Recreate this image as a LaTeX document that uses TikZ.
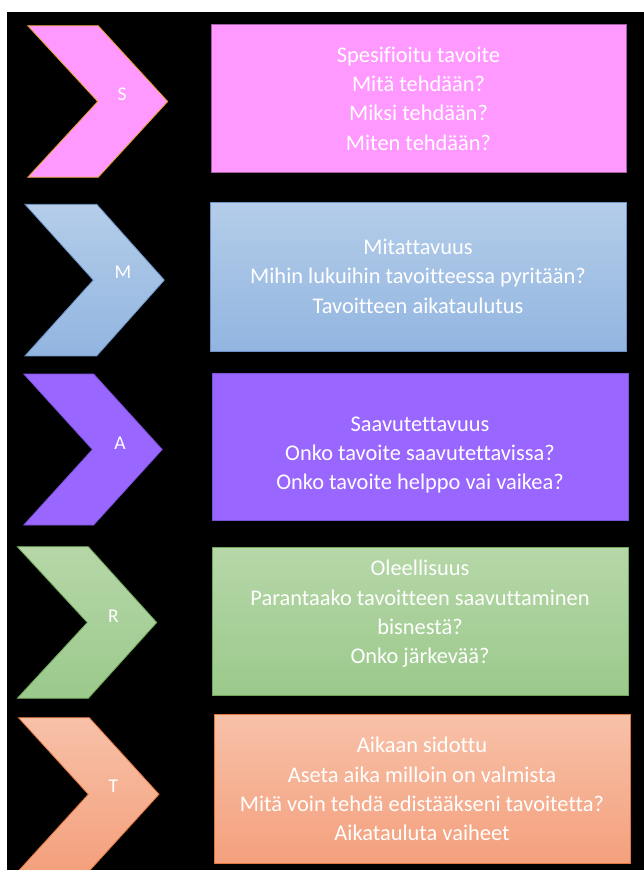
\documentclass[tikz,border=0pt]{standalone}
\usepackage{fontspec}
\setmainfont{Carlito}[RawFeature={-liga;-clig;-calt;-dlig}]

\definecolor{sfill}{HTML}{FF99FF}
\definecolor{sline}{HTML}{E0A020}
\definecolor{sbox}{HTML}{A060A0}
\definecolor{mtop}{HTML}{B4CDE9}
\definecolor{mbot}{HTML}{92B5E0}
\definecolor{mline}{HTML}{6D93C6}
\definecolor{afill}{HTML}{9966FF}
\definecolor{aline}{HTML}{7B52D6}
\definecolor{rtop}{HTML}{B6D7A8}
\definecolor{rbot}{HTML}{9BC98B}
\definecolor{rline}{HTML}{6FA657}
\definecolor{ttop}{HTML}{F7C1A8}
\definecolor{tbot}{HTML}{F4A07D}
\definecolor{tline}{HTML}{E0753E}

\begin{document}
\begin{tikzpicture}[x=1pt,y=-1pt,
  chev/.style={line width=0.8pt, line join=miter},
  goalbox/.style={rectangle, line width=0.8pt, anchor=north west, inner sep=0pt},
  goaltext/.style={text=white, align=center, font=\fontsize{22.4}{29.4}\selectfont},
  letter/.style={text=white, font=\fontsize{19.5}{21}\selectfont}]

  \useasboundingbox (0,0) rectangle (644,870);
  \clip (0,0) rectangle (644,870);
  \fill[white] (0,0) rectangle (644,870);
  \fill[black] (7,12) rectangle (644,870);

  % S
  \path[chev, fill=sfill, draw=sline] (27.7,25.7) -- ++(70.5,0) -- ++(69.5,75.8)
    -- ++(-69.5,75.8) -- ++(-70.5,0) -- ++(70,-75.8) -- cycle;
  \node[letter] (lS) at (122,94.3) {S};
  \node[goalbox, fill=sfill, draw=sbox, minimum width=415pt, minimum height=148.3pt] (bS) at (211,24) {};
  \node[goaltext] (tS) at (418.5,98.5) {Spesifioitu tavoite\\Mitä tehdään?\\Miksi tehdään?\\Miten tehdään?};

  % M
  \path[chev, top color=mtop, bottom color=mbot, draw=mline] (25,204.3) -- ++(71.7,0) -- ++(67.6,75.8)
    -- ++(-67.6,75.8) -- ++(-71.7,0) -- ++(68.3,-75.8) -- cycle;
  \node[letter] (lM) at (123,272.7) {M};
  \node[goalbox, top color=mtop, bottom color=mbot, draw=mline, minimum width=416.3pt, minimum height=149pt] (bM) at (210,201.7) {};
  \node[goaltext] (tM) at (418,276) {Mitattavuus\\Mihin lukuihin tavoitteessa pyritään?\\Tavoitteen aikataulutus};

  % A
  \path[chev, fill=afill, draw=aline] (23.8,374) -- ++(69.8,0) -- ++(68.6,75.5)
    -- ++(-68.6,75.5) -- ++(-69.8,0) -- ++(68.6,-75.5) -- cycle;
  \node[letter] (lA) at (120,443) {A};
  \node[goalbox, fill=afill, draw=aline, minimum width=415.2pt, minimum height=147.3pt] (bA) at (212.3,372.7) {};
  \node[goaltext] (tA) at (420,455) {Saavutettavuus\\Onko tavoite saavutettavissa?\\Onko tavoite helppo vai vaikea?};

  % R
  \path[chev, top color=rtop, bottom color=rbot, draw=rline] (17.3,546.7) -- ++(71,0) -- ++(68.4,75.8)
    -- ++(-68.4,75.8) -- ++(-71,0) -- ++(70,-75.8) -- cycle;
  \node[letter] (lR) at (113.3,616) {R};
  \node[goalbox, top color=rtop, bottom color=rbot, draw=rline, minimum width=415.2pt, minimum height=148.3pt] (bR) at (212.3,546.7) {};
  \node[goaltext] (tR) at (420,614) {Oleellisuus\\Parantaako tavoitteen saavuttaminen\\bisnestä?\\Onko järkevää?};

  % T
  \path[chev, top color=ttop, bottom color=tbot, draw=tline] (18.5,717.7) -- ++(70.8,0) -- ++(69.7,76.6)
    -- ++(-69.7,76.6) -- ++(-70.8,0) -- ++(69.8,-76.6) -- cycle;
  \node[letter] (lT) at (113.3,786) {T};
  \node[goalbox, top color=ttop, bottom color=tbot, draw=tline, minimum width=415.2pt, minimum height=149pt] (bT) at (214.4,714.3) {};
  \node[goaltext] (tT) at (422,789) {Aikaan sidottu\\Aseta aika milloin on valmista\\Mitä voin tehdä edistääkseni tavoitetta?\\Aikatauluta vaiheet};
\end{tikzpicture}
\end{document}
